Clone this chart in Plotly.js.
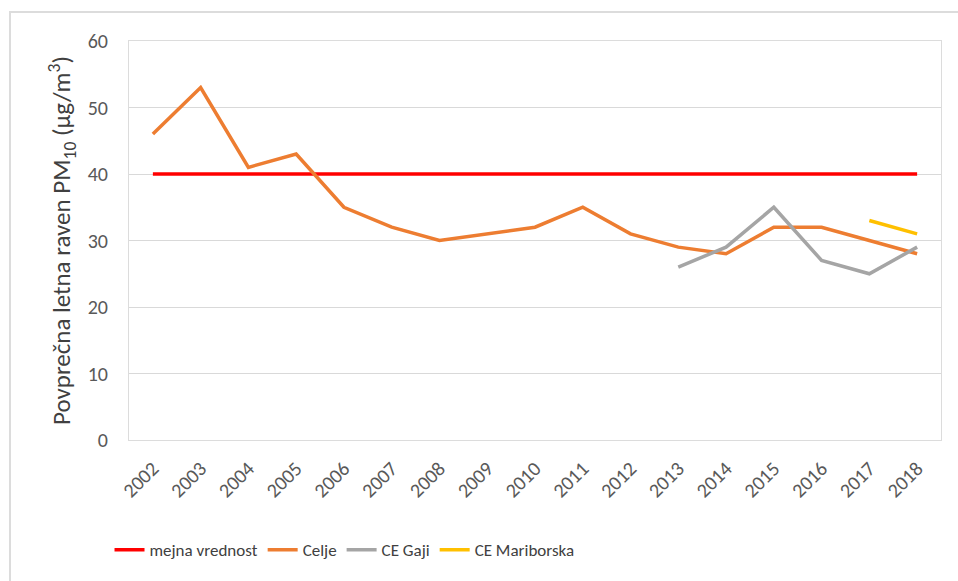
<!DOCTYPE html>
<html>
<head>
<meta charset="utf-8">
<script src="https://cdn.plot.ly/plotly-3.0.1.min.js"></script>
<style>
html,body{margin:0;padding:0;background:#fff;}
#wrap{position:relative;width:958px;height:581px;overflow:hidden;}
#chart{width:958px;height:581px;}
#frame{position:absolute;left:9px;top:11px;width:960px;height:600px;border-top:2px solid #dcdcdc;border-left:2px solid #dcdcdc;pointer-events:none;}
</style>
</head>
<body>
<div id="wrap"><div id="chart"></div><div id="frame"></div></div>
<script>
const years = ['2002','2003','2004','2005','2006','2007','2008','2009','2010','2011','2012','2013','2014','2015','2016','2017','2018'];
const mejnaVrednost = [40,40,40,40,40,40,40,40,40,40,40,40,40,40,40,40,40];
const celje = [46,53,41,43,35,32,30,31,32,35,31,29,28,32,32,30,28];
const ceGaji = [null,null,null,null,null,null,null,null,null,null,null,26,29,35,27,25,29];
const ceMariborska = [null,null,null,null,null,null,null,null,null,null,null,null,null,null,null,33,31];
const seriesNames = ['mejna vrednost','Celje','CE Gaji','CE Mariborska'];
const seriesColors = ['#ff0000','#ed7d31','#a5a5a5','#ffc000'];
const seriesData = [mejnaVrednost, celje, ceGaji, ceMariborska];

const fontFam = "Carlito, Calibri, Lato, 'Noto Sans', sans-serif";

const traces = seriesData.map((d,i)=>({
  x: years, y: d, name: seriesNames[i], type:'scatter', mode:'lines',
  line:{color:seriesColors[i], width:3.5},
  connectgaps:false, hoverinfo:'skip'
}));

const layout = {
  width:958, height:581,
  margin:{l:129,r:17,t:41,b:141},
  paper_bgcolor:'#fff', plot_bgcolor:'#fff',
  showlegend:true,
  legend:{orientation:'h', x:-0.024, xanchor:'left', y:-0.276, yanchor:'middle',
    font:{family:fontFam, size:17, color:'#404040'}, traceorder:'normal'},
  xaxis:{type:'category', range:[-0.5,16.5], tickangle:-45, showgrid:false, showline:true, linecolor:'#dcdcdc', linewidth:1, mirror:true,
    ticks:'', ticklabelstandoff:8, tickfont:{family:fontFam, size:20, color:'#595959'}},
  yaxis:{range:[0,60], dtick:10, tick0:0, showgrid:true, gridcolor:'#d9d9d9', gridwidth:1,
    showline:true, linecolor:'#dcdcdc', mirror:true, ticks:'', zeroline:false, ticklabelstandoff:16,
    tickfont:{family:fontFam, size:20, color:'#595959'},
    title:{text:'Povprečna letna raven PM<sub>10</sub> (µg/m<sup>3</sup>)', font:{family:fontFam, size:25, color:'#404040'}, standoff:9}}
};
Plotly.newPlot('chart', traces, layout, {staticPlot:true, displayModeBar:false});
</script>
</body>
</html>
